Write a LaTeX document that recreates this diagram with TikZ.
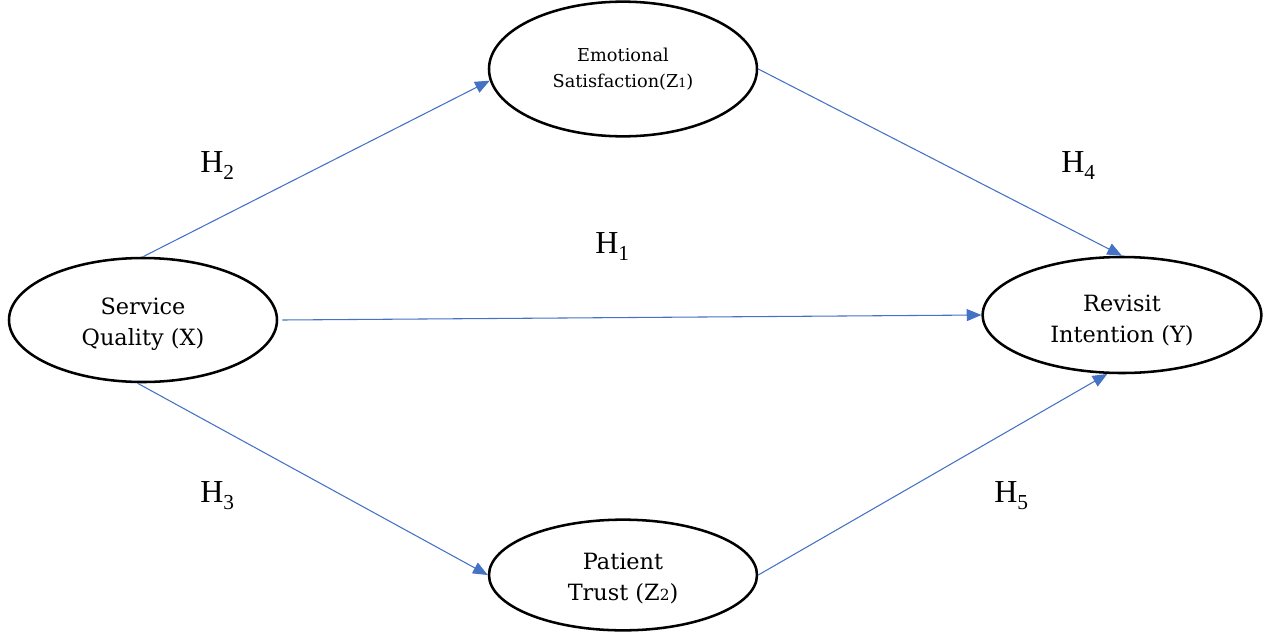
\documentclass[tikz,border=0pt]{standalone}
\usepackage{fontspec}
\setmainfont{DejaVu Serif}
\newfontfamily\hfont{Liberation Serif}
\usetikzlibrary{shapes.geometric,arrows.meta}
\definecolor{arrowblue}{HTML}{4472C4}
\newcommand{\smallsub}[1]{{\fontsize{9.5}{9.5}\selectfont #1}}
\newcommand{\midsub}[1]{{\fontsize{11.5}{11.5}\selectfont #1}}
\newcommand{\vtext}[2]{\raisebox{#1}[\height][\depth]{\begin{tabular}{@{}c@{}}#2\end{tabular}}}
\begin{document}
\begin{tikzpicture}[x=0.75pt,y=-0.75pt,
  var/.style={ellipse, draw=black, line width=1.9pt, inner sep=0pt, align=center},
  bigtext/.style={font=\fontsize{16.8}{23.5}\selectfont},
  smalltext/.style={font=\fontsize{13.3}{19.5}\selectfont},
  conn/.style={draw=arrowblue, line width=0.8pt, -{Triangle[length=11pt,width=9pt]}},
  hyp/.style={font=\hfont\fontsize{24}{24}\selectfont, anchor=base west, inner sep=0pt}]
\useasboundingbox (0,0) rectangle (1264,632);
\node[var, smalltext, minimum width=201pt, minimum height=101pt] (emo) at (623,69) {\vtext{0pt}{Emotional\\Satisfaction(Z\smallsub{1})}};
\node[var, bigtext, minimum width=201pt, minimum height=93pt] (sq) at (143,320) {\vtext{-3pt}{Service\\Quality (X)}};
\node[var, bigtext, minimum width=209pt, minimum height=87pt] (rev) at (1122,315) {\vtext{-4.5pt}{Revisit\\Intention (Y)}};
\node[var, bigtext, minimum width=201pt, minimum height=83pt] (pat) at (623,575) {\vtext{-3pt}{Patient\\Trust (Z\midsub{2})}};
\draw[conn] (sq.north) -- (emo.185);
\draw[conn] ([xshift=3pt]sq.east) -- (rev.west);
\draw[conn] (sq.265) -- (pat.west);
\draw[conn] (emo.east) -- (rev.north);
\draw[conn] (pat.east) -- (rev.256);
\node[hyp] (h2) at (200,172) {H\raisebox{-0.22em}{\fontsize{16}{16}\selectfont 2}};
\node[hyp] (h1) at (595,253) {H\raisebox{-0.22em}{\fontsize{16}{16}\selectfont 1}};
\node[hyp] (h4) at (1061,172) {H\raisebox{-0.22em}{\fontsize{16}{16}\selectfont 4}};
\node[hyp] (h3) at (200,502) {H\raisebox{-0.22em}{\fontsize{16}{16}\selectfont 3}};
\node[hyp] (h5) at (994,502) {H\raisebox{-0.22em}{\fontsize{16}{16}\selectfont 5}};
\end{tikzpicture}
\end{document}
